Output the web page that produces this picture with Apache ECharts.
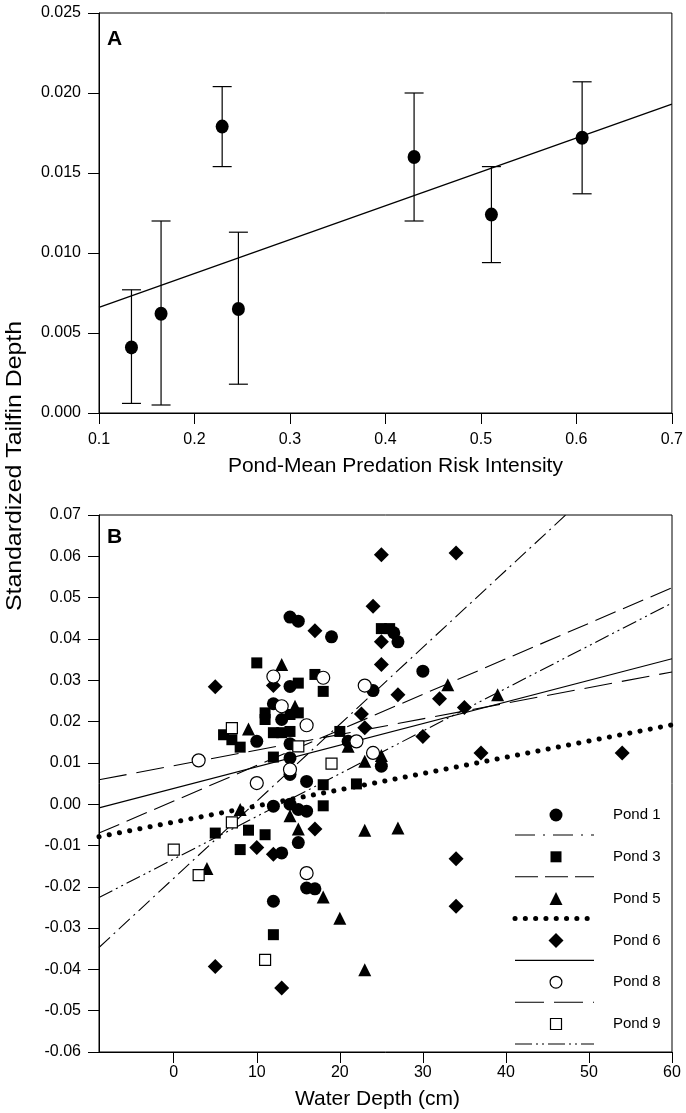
<!DOCTYPE html>
<html>
<head>
<meta charset="utf-8">
<script src="https://cdn.jsdelivr.net/npm/echarts@6/dist/echarts.min.js"></script>
<style>
html,body{margin:0;padding:0;background:#fff;}
#chart{width:686px;height:1113px;}
</style>
</head>
<body>
<div id="chart"></div>
<script>
// ---------- Panel A data ----------
const aX    = [0.134, 0.165, 0.229, 0.246, 0.430, 0.511, 0.606];
const aMean = [0.0041, 0.0062, 0.0179, 0.0065, 0.0160, 0.0124, 0.0172];
const aLow  = [0.0006, 0.0005, 0.0154, 0.0018, 0.0120, 0.0094, 0.0137];
const aHigh = [0.0077, 0.0120, 0.0204, 0.0113, 0.0200, 0.0154, 0.0207];
const aFitX = [0.1, 0.7];
const aFitY = [0.0066, 0.0193];
const aXTicks = [0.1, 0.2, 0.3, 0.4, 0.5, 0.6, 0.7];

// ---------- Panel B data (water depth cm, standardized tailfin depth) ----------
const pond1X = [14, 15, 19, 26.5, 27, 30, 24, 12, 13, 14, 10, 14, 14, 14, 16, 25, 12, 14, 15, 16, 15, 13, 16, 17, 12, 21];
const pond1Y = [0.0453, 0.0443, 0.0405, 0.0415, 0.0393, 0.0322, 0.0275, 0.0243, 0.0205, 0.0285, 0.0152, 0.0146, 0.0112, 0.0072, 0.0055, 0.0092, -0.0005, 0.0000, -0.0013, -0.0017, -0.0093, -0.0118, -0.0203, -0.0205, -0.0235, 0.0152];
const pond3X = [10, 15, 17, 18, 11, 11, 14, 15, 6, 7, 8, 12, 13, 14, 12, 20, 18, 22, 18, 5, 9, 11, 8, 12, 25, 26];
const pond3Y = [0.0342, 0.0293, 0.0314, 0.0273, 0.0221, 0.0205, 0.0217, 0.0221, 0.0168, 0.0156, 0.0138, 0.0173, 0.0173, 0.0176, 0.0114, 0.0176, 0.0047, 0.0049, -0.0004, -0.0070, -0.0063, -0.0074, -0.0110, -0.0316, 0.0425, 0.0425];
const pond5X = [13, 9, 14.6, 21, 23, 25, 33, 39, 8, 14, 15, 4, 18, 20, 23, 27, 23];
const pond5Y = [0.0338, 0.0182, 0.0237, 0.0140, 0.0104, 0.0118, 0.0289, 0.0265, -0.0013, -0.0028, -0.0060, -0.0156, -0.0225, -0.0276, -0.0063, -0.0058, -0.0401];
const pond6X = [25, 34, 24, 17, 25, 25, 5, 12, 27, 32, 35, 22.6, 23, 30, 37, 54, 17, 10, 12, 34, 34, 5, 13];
const pond6Y = [0.0604, 0.0608, 0.0479, 0.0420, 0.0393, 0.0338, 0.0284, 0.0287, 0.0265, 0.0255, 0.0234, 0.0218, 0.0185, 0.0164, 0.0124, 0.0124, -0.0060, -0.0105, -0.0121, -0.0132, -0.0247, -0.0393, -0.0445];
const pond8X = [3, 12, 18, 23, 13, 16, 22, 24, 14, 10, 16];
const pond8Y = [0.0106, 0.0309, 0.0306, 0.0287, 0.0237, 0.0191, 0.0152, 0.0124, 0.0084, 0.0051, -0.0167];
const pond9X = [0, 3, 7, 7, 15, 19, 11];
const pond9Y = [-0.0110, -0.0172, -0.0044, 0.0184, 0.0140, 0.0098, -0.0377];

// regression line end points per pond
const fit1 = [[-9, -0.0347], [47.2, 0.07]];
const fit3 = [[-9, -0.0070], [60, 0.0524]];
const fit5 = [[-9, -0.0079], [60, 0.0192]];
const fit6 = [[-9, -0.0009], [60, 0.0352]];
const fit8 = [[-9, 0.0059], [60, 0.0320]];
const fit9 = [[-9, -0.0226], [60, 0.0487]];

const bXTicks = [0, 10, 20, 30, 40, 50, 60];
const pondNames = ['Pond 1', 'Pond 3', 'Pond 5', 'Pond 6', 'Pond 8', 'Pond 9'];

// ---------- helpers ----------
const FONT = '"Liberation Sans", Arial, Helvetica, sans-serif';
const zip = (xs, ys) => xs.map((x, i) => [x, ys[i]]);

const axisCommon = {
  axisLine: { show: true, onZero: false, lineStyle: { color: '#000', width: 1 } },
  axisTick: { show: true, inside: false, length: 11, lineStyle: { color: '#000', width: 1 } },
  splitLine: { show: false },
  axisLabel: { color: '#000', fontSize: 16, fontFamily: FONT },
  nameTextStyle: { color: '#000', fontSize: 21, fontFamily: FONT }
};

const symbols = {
  'Pond 1': { symbol: 'circle', size: 13, fill: '#000' },
  'Pond 3': { symbol: 'rect', size: 11, fill: '#000' },
  'Pond 5': { symbol: 'triangle', size: 13, fill: '#000' },
  'Pond 6': { symbol: 'diamond', size: 15, fill: '#000' },
  'Pond 8': { symbol: 'circle', size: 13, fill: '#fff' },
  'Pond 9': { symbol: 'rect', size: 11, fill: '#fff' }
};
const lineStyles = {
  'Pond 1': { type: [15, 5, 2, 5], width: 1.1, cap: 'butt' },
  'Pond 3': { type: [22, 8], width: 1.1, cap: 'butt' },
  'Pond 5': { type: [0.1, 10.3], width: 5, cap: 'round' },
  'Pond 6': { type: 'solid', width: 1.1, cap: 'butt' },
  'Pond 8': { type: [28, 10], width: 1.1, cap: 'butt' },
  'Pond 9': { type: [15, 4, 2, 4, 2, 4], width: 1.1, cap: 'butt' }
};

const pondData = {
  'Pond 1': zip(pond1X, pond1Y),
  'Pond 3': zip(pond3X, pond3Y),
  'Pond 5': zip(pond5X, pond5Y),
  'Pond 6': zip(pond6X, pond6Y),
  'Pond 8': zip(pond8X, pond8Y),
  'Pond 9': zip(pond9X, pond9Y)
};
const pondFits = { 'Pond 1': fit1, 'Pond 3': fit3, 'Pond 5': fit5, 'Pond 6': fit6, 'Pond 8': fit8, 'Pond 9': fit9 };

const series = [];

// Panel A: error bars
series.push({
  type: 'custom', xAxisIndex: 0, yAxisIndex: 0, silent: true, z: 3,
  data: aX.map((x, i) => [x, aLow[i], aHigh[i]]),
  renderItem: function (params, api) {
    const lo = api.coord([api.value(0), api.value(1)]);
    const hi = api.coord([api.value(0), api.value(2)]);
    const hw = 9.5;
    const st = { stroke: '#000', lineWidth: 1.2 };
    return { type: 'group', children: [
      { type: 'line', shape: { x1: lo[0], y1: lo[1], x2: hi[0], y2: hi[1] }, style: st },
      { type: 'line', shape: { x1: lo[0] - hw, y1: lo[1], x2: lo[0] + hw, y2: lo[1] }, style: st },
      { type: 'line', shape: { x1: hi[0] - hw, y1: hi[1], x2: hi[0] + hw, y2: hi[1] }, style: st }
    ]};
  }
});
// Panel A: regression line
series.push({
  type: 'line', xAxisIndex: 0, yAxisIndex: 0, showSymbol: false, silent: true, z: 2,
  data: zip(aFitX, aFitY),
  lineStyle: { color: '#000', width: 1.3 }
});
// Panel A: means
series.push({
  type: 'scatter', xAxisIndex: 0, yAxisIndex: 0, z: 5,
  symbol: 'circle', symbolSize: [13, 14],
  itemStyle: { color: '#000', opacity: 1 },
  data: zip(aX, aMean)
});

// Panel B: regression lines
pondNames.forEach(n => {
  const ls = lineStyles[n];
  series.push({
    type: 'line', xAxisIndex: 1, yAxisIndex: 1, showSymbol: false, silent: true, z: 2,
    data: pondFits[n],
    lineStyle: { color: '#000', width: ls.width, type: ls.type, cap: ls.cap }
  });
});
// Panel B: points
pondNames.forEach(n => {
  const s = symbols[n];
  series.push({
    type: 'scatter', xAxisIndex: 1, yAxisIndex: 1, z: 4,
    symbol: s.symbol, symbolSize: s.size,
    itemStyle: { color: s.fill, borderColor: '#000', borderWidth: s.fill === '#fff' ? 1.2 : 0, opacity: 1 },
    data: pondData[n]
  });
});

// ---------- legend (drawn as graphics) ----------
const legendGraphics = [];
const legX0 = 515, legX1 = 594, legMarkX = 556, legTextX = 613;
const legY0 = 815, legStep = 41.8;
const dashFor = { 'Pond 1': [20, 8, 2, 8], 'Pond 3': [23, 7], 'Pond 5': [0.1, 10.2], 'Pond 6': null, 'Pond 8': [29, 10], 'Pond 9': [17, 4, 2, 4, 2, 4] };
pondNames.forEach((n, i) => {
  const y = legY0 + i * legStep;
  const s = symbols[n];
  const sz = s.size;
  let shape;
  if (s.symbol === 'circle') {
    shape = { type: 'circle', shape: { cx: legMarkX, cy: y, r: sz / 2 - (s.fill === '#fff' ? 0.6 : 0) },
      style: { fill: s.fill, stroke: '#000', lineWidth: s.fill === '#fff' ? 1.2 : 0 } };
  } else if (s.symbol === 'rect') {
    shape = { type: 'rect', shape: { x: legMarkX - sz / 2, y: y - sz / 2, width: sz, height: sz },
      style: { fill: s.fill, stroke: '#000', lineWidth: s.fill === '#fff' ? 1.2 : 0 } };
  } else if (s.symbol === 'triangle') {
    shape = { type: 'polygon', shape: { points: [[legMarkX, y - sz / 2], [legMarkX + sz / 2, y + sz / 2], [legMarkX - sz / 2, y + sz / 2]] },
      style: { fill: '#000' } };
  } else {
    shape = { type: 'polygon', shape: { points: [[legMarkX, y - sz / 2], [legMarkX + sz / 2, y], [legMarkX, y + sz / 2], [legMarkX - sz / 2, y]] },
      style: { fill: '#000' } };
  }
  legendGraphics.push(shape);
  legendGraphics.push({ type: 'text', x: legTextX, y: y, style: { text: n, fill: '#000', font: '15px ' + FONT, verticalAlign: 'middle', align: 'left' } });
  const ls = lineStyles[n];
  legendGraphics.push({ type: 'line', shape: { x1: legX0, y1: y + 20, x2: legX1, y2: y + 20 },
    style: { stroke: '#000', lineWidth: ls.width, lineDash: dashFor[n], lineCap: ls.cap } });
});

const option = {
  animation: false,
  backgroundColor: '#fff',
  grid: [
    { left: 99, top: 13, width: 574, height: 400, show: true, borderColor: '#000', borderWidth: 1, backgroundColor: 'transparent' },
    { left: 99, top: 515, width: 573, height: 537, show: true, borderColor: '#000', borderWidth: 1, backgroundColor: 'transparent' }
  ],
  xAxis: [
    Object.assign({}, axisCommon, {
      gridIndex: 0, type: 'value', min: 0.1, max: 0.7, interval: 0.1,
      name: 'Pond-Mean Predation Risk Intensity', nameLocation: 'middle', nameGap: 43,
      nameTextStyle: Object.assign({}, axisCommon.nameTextStyle, { padding: [0, 0, 0, 20] }),
      axisLabel: Object.assign({}, axisCommon.axisLabel, { margin: 19, formatter: v => v.toFixed(1) })
    }),
    Object.assign({}, axisCommon, {
      gridIndex: 1, type: 'value', min: -9, max: 60,
      name: 'Water Depth (cm)', nameLocation: 'middle', nameGap: 37,
      nameTextStyle: Object.assign({}, axisCommon.nameTextStyle, { padding: [0, 16, 0, 0] }),
      axisTick: Object.assign({}, axisCommon.axisTick, { customValues: bXTicks }),
      axisLabel: Object.assign({}, axisCommon.axisLabel, { margin: 13, customValues: bXTicks, formatter: v => String(v) })
    })
  ],
  yAxis: [
    Object.assign({}, axisCommon, {
      gridIndex: 0, type: 'value', min: 0, max: 0.025, interval: 0.005,
      axisLabel: Object.assign({}, axisCommon.axisLabel, { margin: 18, formatter: v => v.toFixed(3) })
    }),
    Object.assign({}, axisCommon, {
      gridIndex: 1, type: 'value', min: -0.06, max: 0.07, interval: 0.01,
      axisLabel: Object.assign({}, axisCommon.axisLabel, { margin: 18, formatter: v => v.toFixed(2) })
    })
  ],
  graphic: [
    { type: 'text', x: 107, y: 29, style: { text: 'A', fill: '#000', font: 'bold 21px ' + FONT } },
    { type: 'text', x: 107, y: 527, style: { text: 'B', fill: '#000', font: 'bold 21px ' + FONT } },
    { type: 'text', x: 15, y: 466, rotation: Math.PI / 2, scaleX: 1.13, style: { text: 'Standardized Tailfin Depth', fill: '#000', font: '22px ' + FONT, align: 'center', verticalAlign: 'middle' } }
  ].concat(legendGraphics),
  series: series
};

const chart = echarts.init(document.getElementById('chart'), null, { renderer: 'canvas' });
chart.setOption(option);
</script>
</body>
</html>
